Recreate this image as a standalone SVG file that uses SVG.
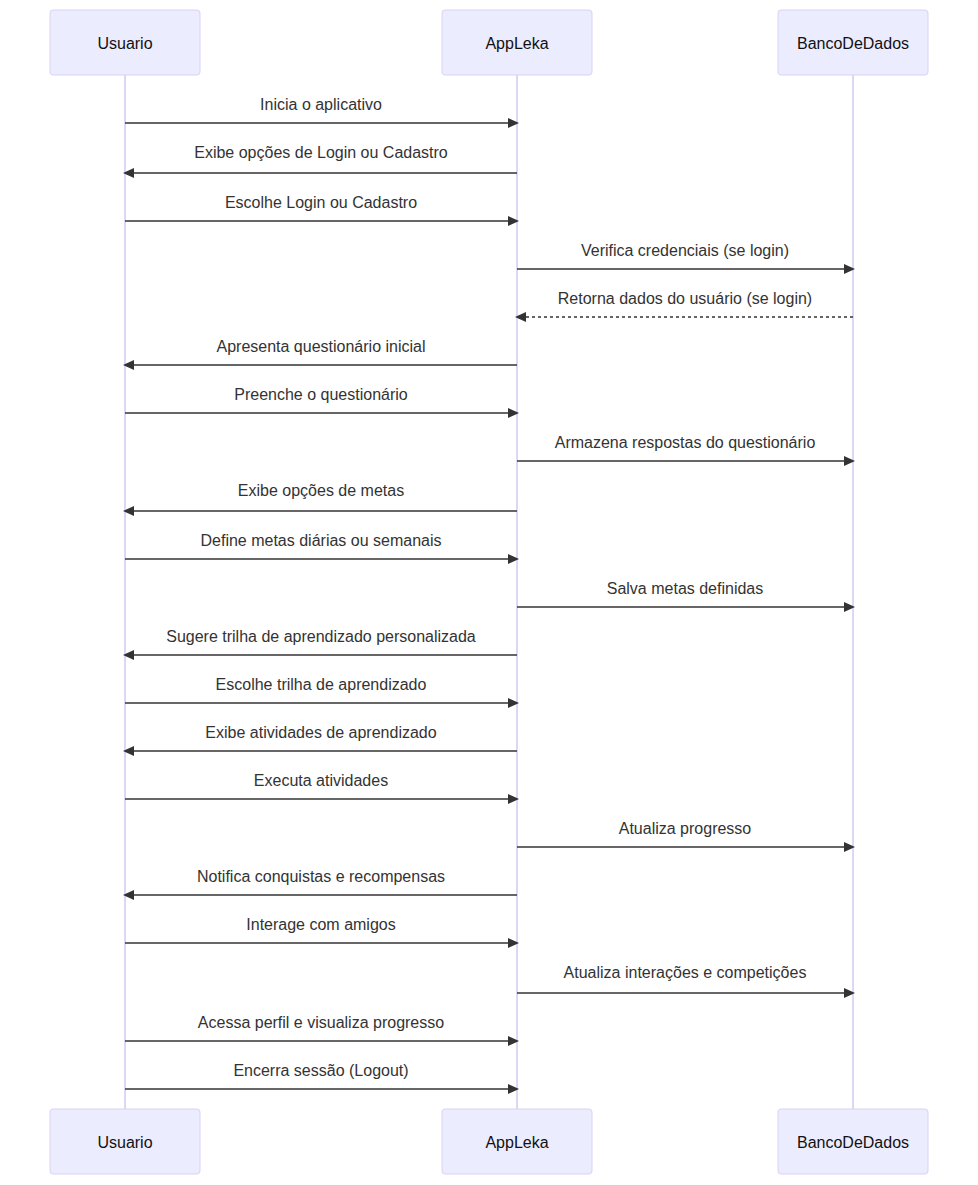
<svg xmlns="http://www.w3.org/2000/svg" width="978" height="1185" viewBox="0 0 978 1185">
<style>
.actor{fill:#ECECFF;stroke:#D9D2F5;stroke-width:1}
.life{stroke:#D2C9F0;stroke-width:1.5}
.at{font-family:"Liberation Sans",Arial,sans-serif;font-size:16px;fill:#111;text-anchor:middle;dominant-baseline:central}
.mt{font-family:"Liberation Sans",Arial,sans-serif;font-size:16px;fill:#333;text-anchor:middle;dominant-baseline:central}
.msg{stroke:#333;stroke-width:1.5;fill:none}
.dot{stroke-dasharray:3,3}
</style>
<defs>
<marker id="ah" viewBox="0 0 12 12" refX="9" refY="5" markerWidth="12" markerHeight="12" markerUnits="userSpaceOnUse" orient="auto">
<path d="M0,0 L11,5 L0,10 z" fill="#333"/>
</marker>
</defs>
<rect width="978" height="1185" fill="#fff"/>
<g id="lifelines">
<line class="life" x1="125" y1="75" x2="125" y2="1109"/>
<line class="life" x1="517" y1="75" x2="517" y2="1109"/>
<line class="life" x1="853" y1="75" x2="853" y2="1109"/>
</g>
<g id="actor-usuario-top"><rect class="actor" x="50" y="10" width="150" height="65" rx="3"/><text class="at" x="125" y="43">Usuario</text></g>
<g id="actor-appleka-top"><rect class="actor" x="442" y="10" width="150" height="65" rx="3"/><text class="at" x="517" y="43">AppLeka</text></g>
<g id="actor-banco-top"><rect class="actor" x="778" y="10" width="150" height="65" rx="3"/><text class="at" x="853" y="43">BancoDeDados</text></g>
<g id="actor-usuario-bottom"><rect class="actor" x="50" y="1109" width="150" height="65" rx="3"/><text class="at" x="125" y="1142">Usuario</text></g>
<g id="actor-appleka-bottom"><rect class="actor" x="442" y="1109" width="150" height="65" rx="3"/><text class="at" x="517" y="1142">AppLeka</text></g>
<g id="actor-banco-bottom"><rect class="actor" x="778" y="1109" width="150" height="65" rx="3"/><text class="at" x="853" y="1142">BancoDeDados</text></g>
<g id="connectors">
<line class="msg" x1="125" y1="123" x2="517" y2="123" marker-end="url(#ah)"/>
<line class="msg" x1="517" y1="173" x2="125" y2="173" marker-end="url(#ah)"/>
<line class="msg" x1="125" y1="221" x2="517" y2="221" marker-end="url(#ah)"/>
<line class="msg" x1="517" y1="269" x2="853" y2="269" marker-end="url(#ah)"/>
<line class="msg dot" x1="853" y1="317" x2="517" y2="317" marker-end="url(#ah)"/>
<line class="msg" x1="517" y1="365" x2="125" y2="365" marker-end="url(#ah)"/>
<line class="msg" x1="125" y1="413" x2="517" y2="413" marker-end="url(#ah)"/>
<line class="msg" x1="517" y1="461" x2="853" y2="461" marker-end="url(#ah)"/>
<line class="msg" x1="517" y1="511" x2="125" y2="511" marker-end="url(#ah)"/>
<line class="msg" x1="125" y1="559" x2="517" y2="559" marker-end="url(#ah)"/>
<line class="msg" x1="517" y1="607" x2="853" y2="607" marker-end="url(#ah)"/>
<line class="msg" x1="517" y1="655" x2="125" y2="655" marker-end="url(#ah)"/>
<line class="msg" x1="125" y1="703" x2="517" y2="703" marker-end="url(#ah)"/>
<line class="msg" x1="517" y1="751" x2="125" y2="751" marker-end="url(#ah)"/>
<line class="msg" x1="125" y1="799" x2="517" y2="799" marker-end="url(#ah)"/>
<line class="msg" x1="517" y1="847" x2="853" y2="847" marker-end="url(#ah)"/>
<line class="msg" x1="517" y1="895" x2="125" y2="895" marker-end="url(#ah)"/>
<line class="msg" x1="125" y1="943" x2="517" y2="943" marker-end="url(#ah)"/>
<line class="msg" x1="517" y1="993" x2="853" y2="993" marker-end="url(#ah)"/>
<line class="msg" x1="125" y1="1041" x2="517" y2="1041" marker-end="url(#ah)"/>
<line class="msg" x1="125" y1="1089" x2="517" y2="1089" marker-end="url(#ah)"/>
</g>
<g id="labels">
<text class="mt" x="321" y="104">Inicia o aplicativo</text>
<text class="mt" x="321" y="152">Exibe opções de Login ou Cadastro</text>
<text class="mt" x="321" y="202">Escolhe Login ou Cadastro</text>
<text class="mt" x="685" y="250">Verifica credenciais (se login)</text>
<text class="mt" x="685" y="298">Retorna dados do usuário (se login)</text>
<text class="mt" x="321" y="346">Apresenta questionário inicial</text>
<text class="mt" x="321" y="394">Preenche o questionário</text>
<text class="mt" x="685" y="442">Armazena respostas do questionário</text>
<text class="mt" x="321" y="490">Exibe opções de metas</text>
<text class="mt" x="321" y="540">Define metas diárias ou semanais</text>
<text class="mt" x="685" y="588">Salva metas definidas</text>
<text class="mt" x="321" y="636">Sugere trilha de aprendizado personalizada</text>
<text class="mt" x="321" y="684">Escolhe trilha de aprendizado</text>
<text class="mt" x="321" y="732">Exibe atividades de aprendizado</text>
<text class="mt" x="321" y="780">Executa atividades</text>
<text class="mt" x="685" y="828">Atualiza progresso</text>
<text class="mt" x="321" y="876">Notifica conquistas e recompensas</text>
<text class="mt" x="321" y="924">Interage com amigos</text>
<text class="mt" x="685" y="972">Atualiza interações e competições</text>
<text class="mt" x="321" y="1022">Acessa perfil e visualiza progresso</text>
<text class="mt" x="321" y="1070">Encerra sessão (Logout)</text>
</g>
</svg>
